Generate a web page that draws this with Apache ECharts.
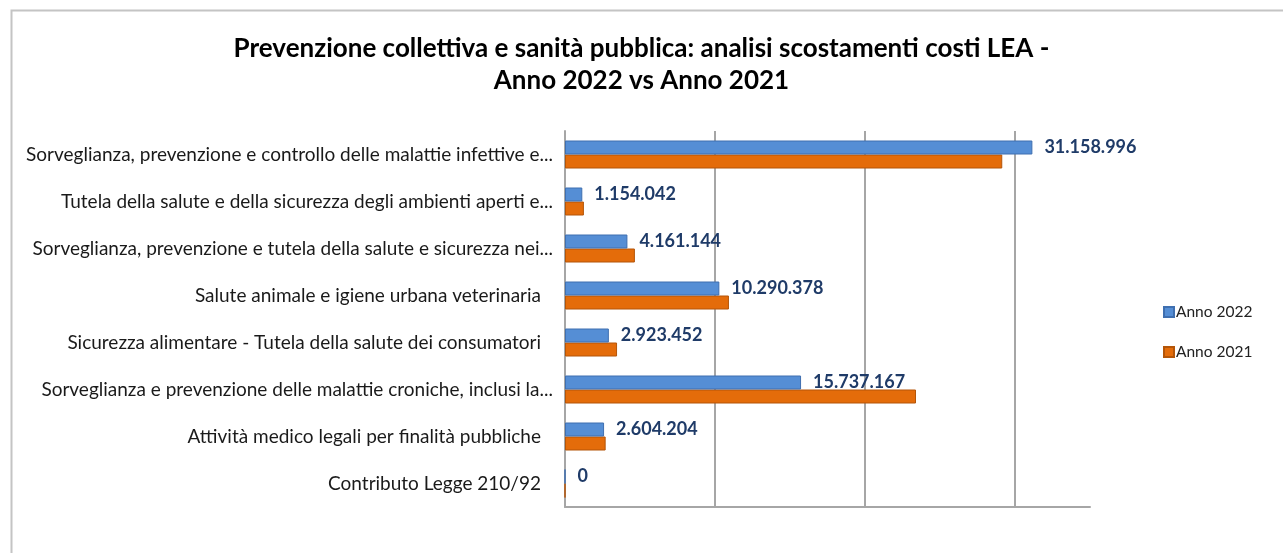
<!DOCTYPE html>
<html>
<head>
<meta charset="utf-8">
<script src="https://cdn.jsdelivr.net/npm/echarts@6/dist/echarts.min.js"></script>
<style>
html,body{margin:0;padding:0;background:#fff;}
#chart{width:1283px;height:553px;}
</style>
</head>
<body>
<div id="chart"></div>
<script>
const titleText = 'Prevenzione collettiva e sanità pubblica: analisi scostamenti costi LEA -\nAnno 2022 vs Anno 2021';
const categories = [
  'Sorveglianza, prevenzione e controllo delle malattie infettive e...',
  'Tutela della salute e della sicurezza degli ambienti aperti e...',
  'Sorveglianza, prevenzione e tutela della salute e sicurezza nei...',
  'Salute animale e igiene urbana veterinaria',
  'Sicurezza alimentare - Tutela della salute dei consumatori',
  'Sorveglianza e prevenzione delle malattie croniche, inclusi la...',
  'Attività medico legali per finalità pubbliche',
  'Contributo Legge 210/92'
];
const seriesNames = ['Anno 2022', 'Anno 2021'];
const anno2022 = [31158996, 1154042, 4161144, 10290378, 2923452, 15737167, 2604204, 0];
const anno2021 = [29150000, 1260000, 4660000, 10930000, 3470000, 23400000, 2710000, 0];
const gridValues = [10000000, 20000000, 30000000];

// categories listed top to bottom; ECharts category y axis goes bottom to top
const catsRev = categories.slice().reverse();
const a22 = anno2022.slice().reverse();
const a21 = anno2021.slice().reverse();

function fmtIt(v) {
  return String(Math.round(v)).replace(/\B(?=(\d{3})+(?!\d))/g, '.');
}

const chart = echarts.init(document.getElementById('chart'), null, {renderer: 'canvas'});
chart.setOption({
  backgroundColor: '#ffffff',
  animation: false,
  textStyle: {fontFamily: 'Lato, "Open Sans", sans-serif'},
  graphic: [{
    type: 'rect', left: 9, top: 8,
    shape: {width: 1300, height: 600},
    style: {fill: 'none', stroke: '#c4c4c4', lineWidth: 2},
    silent: true, z: -1
  }],
  title: {
    text: titleText,
    left: 'center',
    top: 28,
    textStyle: {fontFamily: 'Lato, sans-serif', fontWeight: 'bold', fontSize: 26, color: '#000', lineHeight: 32}
  },
  legend: {
    orient: 'vertical',
    left: 1158,
    top: 299,
    itemWidth: 10,
    itemHeight: 10,
    itemGap: 24,
    icon: 'rect',
    data: seriesNames,
    textStyle: {fontFamily: 'Lato, sans-serif', fontSize: 15.5, color: '#222', padding: [0,0,0,-3]}
  },
  grid: {left: 565, right: 193, top: 131, bottom: 46, containLabel: false},
  xAxis: {
    type: 'value',
    min: 0,
    max: 35000000,
    interval: 10000000,
    axisLabel: {show: false},
    axisTick: {show: false},
    axisLine: {show: true, lineStyle: {color: '#a6a6a6', width: 2}},
    splitLine: {show: false}
  },
  yAxis: {
    type: 'category',
    data: catsRev,
    axisTick: {show: false},
    axisLine: {show: true, lineStyle: {color: '#a6a6a6', width: 2}},
    axisLabel: {
      margin: 12,
      fontFamily: 'Lato, sans-serif',
      fontSize: 19,
      color: '#1a1a1a',
      formatter: function (v) { return v.endsWith('...') ? v : '{p|' + v + '}'; },
      rich: {p: {fontFamily: 'Lato, sans-serif', fontSize: 19, color: '#1a1a1a', padding: [0, 12, 0, 0]}}
    }
  },
  series: [
    {
      name: seriesNames[0],
      type: 'bar',
      data: a22,
      barWidth: 14,
      barGap: '0%',
      itemStyle: {color: '#558ed5', borderColor: '#3f6fb0', borderWidth: 1},
      label: {
        show: true,
        position: 'right',
        distance: 12,
        formatter: function (p) { return fmtIt(p.value); },
        fontFamily: 'Lato, sans-serif',
        fontWeight: 'bold',
        fontSize: 18,
        color: '#1f3b68'
      },
      z: 3,
      markLine: {
        silent: true,
        symbol: 'none',
        label: {show: false},
        lineStyle: {color: '#a6a6a6', width: 2, type: 'solid'},
        data: gridValues.map(v => ({xAxis: v})),
        z: 1
      }
    },
    {
      name: seriesNames[1],
      type: 'bar',
      data: a21,
      barWidth: 14,
      barGap: '0%',
      itemStyle: {color: '#e46c0a', borderColor: '#b45508', borderWidth: 1},
      z: 2
    }
  ]
});
</script>
</body>
</html>
